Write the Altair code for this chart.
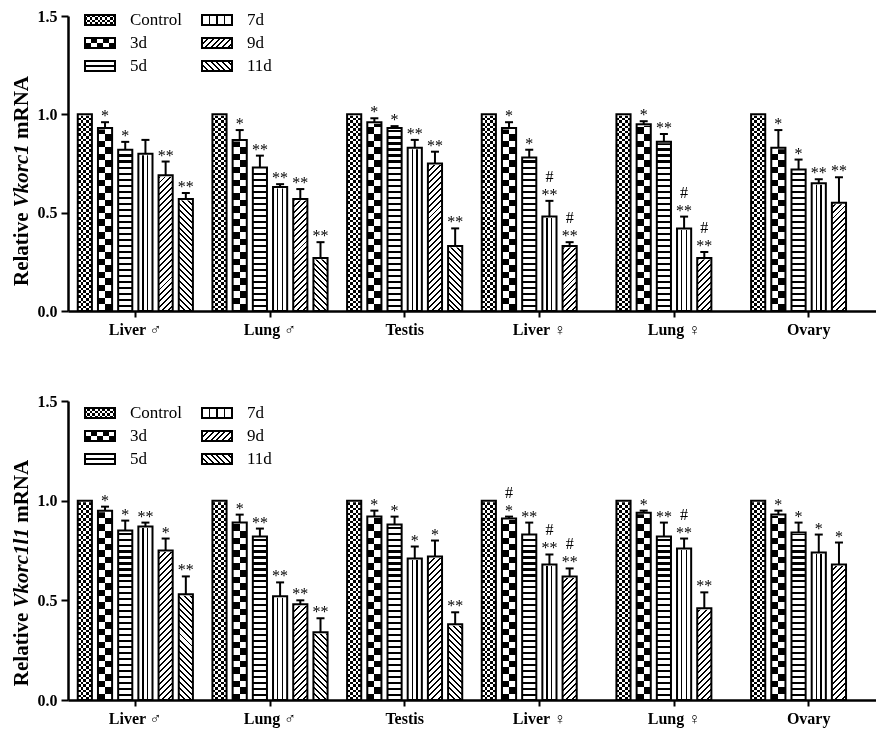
import altair as alt
import pandas as pd

# ---------------- data ----------------
groups = ["Liver ♂", "Lung ♂", "Testis", "Liver ♀", "Lung ♀", "Ovary"]
series = ["Control", "3d", "5d", "7d", "9d", "11d"]

# Relative Vkorc1 mRNA (rows follow `groups`, columns follow `series`)
vk1_mean = [
    [1.00, 0.93, 0.82, 0.80, 0.69, 0.57],
    [1.00, 0.87, 0.73, 0.63, 0.57, 0.27],
    [1.00, 0.96, 0.93, 0.83, 0.75, 0.33],
    [1.00, 0.93, 0.78, 0.48, 0.33],
    [1.00, 0.95, 0.86, 0.42, 0.27],
    [1.00, 0.83, 0.72, 0.65, 0.55],
]
vk1_sem = [
    [0, 0.03, 0.04, 0.07, 0.07, 0.03],
    [0, 0.05, 0.06, 0.015, 0.05, 0.08],
    [0, 0.02, 0.01, 0.04, 0.06, 0.09],
    [0, 0.03, 0.04, 0.08, 0.02],
    [0, 0.015, 0.04, 0.06, 0.03],
    [0, 0.09, 0.05, 0.02, 0.13],
]
vk1_star = [
    ["", "*", "*", "", "**", "**"],
    ["", "*", "**", "**", "**", "**"],
    ["", "*", "*", "**", "**", "**"],
    ["", "*", "*", "**", "**"],
    ["", "*", "**", "**", "**"],
    ["", "*", "*", "**", "**"],
]
vk1_hash = [
    ["", "", "", "", "", ""],
    ["", "", "", "", "", ""],
    ["", "", "", "", "", ""],
    ["", "", "", "#", "#"],
    ["", "", "", "#", "#"],
    ["", "", "", "", ""],
]

# Relative Vkorc1l1 mRNA
vk1l1_mean = [
    [1.00, 0.95, 0.85, 0.87, 0.75, 0.53],
    [1.00, 0.89, 0.82, 0.52, 0.48, 0.34],
    [1.00, 0.92, 0.88, 0.71, 0.72, 0.38],
    [1.00, 0.91, 0.83, 0.68, 0.62],
    [1.00, 0.94, 0.82, 0.76, 0.46],
    [1.00, 0.93, 0.84, 0.74, 0.68],
]
vk1l1_sem = [
    [0, 0.02, 0.05, 0.02, 0.06, 0.09],
    [0, 0.04, 0.04, 0.07, 0.02, 0.07],
    [0, 0.03, 0.04, 0.06, 0.08, 0.06],
    [0, 0.01, 0.06, 0.05, 0.04],
    [0, 0.01, 0.07, 0.05, 0.08],
    [0, 0.02, 0.05, 0.09, 0.11],
]
vk1l1_star = [
    ["", "*", "*", "**", "*", "**"],
    ["", "*", "**", "**", "**", "**"],
    ["", "*", "*", "*", "*", "**"],
    ["", "*", "**", "**", "**"],
    ["", "*", "**", "**", "**"],
    ["", "*", "*", "*", "*"],
]
vk1l1_hash = [
    ["", "", "", "", "", ""],
    ["", "", "", "", "", ""],
    ["", "", "", "", "", ""],
    ["", "#", "", "#", "#"],
    ["", "", "", "#", ""],
    ["", "", "", "", ""],
]

# ---------------- layout / style ----------------
FONT = "Liberation Serif"
W = 808
H_TOP, H_BOTTOM = 295, 299
Y_MAX = 1.5
PI_X, PO_X = 0.1, 0.05
PI_O, PO_O = 0.3, 0.15
STEP_X = W / (len(groups) - PI_X + 2 * PO_X)
BW_X = STEP_X * (1 - PI_X)
STEP_O = BW_X / (len(series) - PI_O + 2 * PO_O)
BAR_W = STEP_O * (1 - PI_O)

BLACK, WHITE = "#000000", "#ffffff"


def frame(mean, sem, star, hsh):
    rows = []
    for g, m, s, st, hs in zip(groups, mean, sem, star, hsh):
        for i, v in enumerate(m):
            rows.append(dict(group=g, series=series[i], value=v, err=s[i],
                             star=st[i], hash=hs[i]))
    return pd.DataFrame(rows)


# ---------- fill patterns built from sharp-edged gradients ----------
def cells(n, first=BLACK, second=WHITE):
    stops = []
    for i in range(n):
        col = first if i % 2 == 0 else second
        stops.append({"offset": round(i / n, 6), "color": col})
        stops.append({"offset": round((i + 1) / n, 6), "color": col})
    return stops


def bands(n, frac, on=BLACK, off=WHITE):
    stops = []
    for i in range(n):
        a, b, c = i / n, (i + frac) / n, (i + 1) / n
        stops += [{"offset": round(a, 6), "color": on},
                  {"offset": round(b, 6), "color": on},
                  {"offset": round(b, 6), "color": off},
                  {"offset": round(c, 6), "color": off}]
    return stops


def lines(count, width):
    stops = [{"offset": 0, "color": WHITE}]
    for j in range(count):
        c = (j + 1) / (count + 1)
        a, b = round(c - width / 2, 6), round(c + width / 2, 6)
        stops += [{"offset": a, "color": WHITE}, {"offset": a, "color": BLACK},
                  {"offset": b, "color": BLACK}, {"offset": b, "color": WHITE}]
    stops.append({"offset": 1, "color": WHITE})
    return stops


def lin(stops, x1, y1, x2, y2):
    return {"gradient": "linear", "x1": x1, "y1": y1, "x2": x2, "y2": y2,
            "stops": stops}


def diag(w, h, forward, period=6.0, frac=0.33):
    r = w / h
    k = (1 + r) / (1 + r * r)
    n = max(1, round((h + w) / period))
    st = bands(n, frac)
    if forward:
        return lin(st, 0, 0, k * r, k)
    return lin(st, 0, 1, k * r, 1 - k)


def pattern(name, w, h, legend=False):
    if name == "Control":
        c = 2.6
        return [(lin(cells(max(2, round(h / c))), 0, 0, 0, 1), None),
                (lin(cells(max(2, round(w / c)), WHITE, BLACK), 0, 0, 1, 0), "difference")]
    if name == "3d":
        c = 6.5 if not legend else 5.5
        return [(lin(cells(max(2, round(h / c))), 0, 0, 0, 1), None),
                (lin(cells(max(2, round(w / c)), WHITE, BLACK), 0, 0, 1, 0), "difference")]
    if name == "5d":
        if legend:
            return [(lin(lines(1, 0.2), 0, 0, 0, 1), None)]
        return [(lin(bands(round(h / 6), 0.35), 0, 0, 0, 1), None)]
    if name == "7d":
        if legend:
            return [(lin(lines(3, 0.06), 0, 0, 1, 0), None)]
        return [(lin(lines(2, 0.1), 0, 0, 1, 0), None)]
    if name == "9d":
        return [(diag(w, h, True), None)]
    return [(diag(w, h, False), None)]


# ---------- encodings ----------
x_axis = alt.Axis(title=None, labelAngle=0, domainColor=BLACK, domainWidth=2.5,
                  tickColor=BLACK, tickWidth=2, tickSize=6, labelPadding=4,
                  labelFont=FONT, labelFontSize=16, labelFontWeight="bold",
                  labelColor=BLACK, grid=False)
y_axis = alt.Axis(title=None, values=[0, 0.5, 1.0, 1.5], format=".1f",
                  domainColor=BLACK, domainWidth=2.5, tickColor=BLACK,
                  tickWidth=2, tickSize=7, labelPadding=4, labelFont=FONT,
                  labelFontSize=16, labelFontWeight="bold", labelColor=BLACK,
                  grid=False)
X = alt.X("group:N", scale=alt.Scale(domain=groups, paddingInner=PI_X,
                                     paddingOuter=PO_X), axis=x_axis)
XO = alt.XOffset("series:N", scale=alt.Scale(domain=series, paddingInner=PI_O,
                                             paddingOuter=PO_O))
YSCALE = alt.Scale(domain=[0, Y_MAX], nice=False, zero=True)
Y = alt.Y("value:Q", scale=YSCALE, axis=y_axis)
Y_TOPQ = alt.Y("top:Q", scale=YSCALE, axis=y_axis)
Y_BASE = alt.Y(datum=0, type="quantitative", scale=YSCALE, axis=y_axis)
Y_TOP = alt.Y2(datum=Y_MAX)

# Times-Bold / Bold-Italic advance widths (em) for centring the mixed-style title
BOLD_W = {"R": .722, "e": .444, "l": .278, "a": .5, "t": .333, "i": .278,
          "v": .5, "m": .833, "N": .722, "A": .722, " ": .25}
BI_W = {"V": .667, "k": .5, "o": .5, "r": .389, "c": .444, "1": .5, "l": .278}
TITLE_FS = 21
LEG_X = [17, 134]


def text_w(s, table):
    return sum(table[ch] for ch in s) * TITLE_FS


def panel(df, gene, H, leg_rows, title_y):
    layers = []
    # patterned fills (full-height, then masked above each value)
    for s in series:
        for grad, blend in pattern(s, BAR_W, H):
            kw = {"fill": grad, "strokeWidth": 0}
            if blend:
                kw["blend"] = blend
            layers.append(
                alt.Chart(df).transform_filter(alt.datum.series == s)
                .mark_bar(**kw)
                .encode(x=X, xOffset=XO, y=Y_BASE, y2=Y_TOP))
    # white mask above each bar's value
    layers.append(
        alt.Chart(df).mark_bar(fill=WHITE, stroke=WHITE, strokeWidth=3)
        .encode(x=X, xOffset=XO, y=Y, y2=Y_TOP))
    # bar outlines
    layers.append(
        alt.Chart(df).mark_bar(fillOpacity=0, stroke=BLACK, strokeWidth=2)
        .encode(x=X, xOffset=XO, y=Y))
    eb = alt.Chart(df).transform_filter(alt.datum.err > 0).transform_calculate(
        top="datum.value + datum.err")
    layers.append(eb.mark_rule(color=BLACK, strokeWidth=2)
                  .encode(x=X, xOffset=XO, y=Y, y2=alt.Y2("top:Q")))
    layers.append(eb.mark_tick(orient="horizontal", color=BLACK, size=8,
                               thickness=2, opacity=1)
                  .encode(x=X, xOffset=XO, y=Y_TOPQ))
    ann = alt.Chart(df).transform_calculate(top="datum.value + datum.err")
    layers.append(ann.transform_filter(alt.datum.star != "")
                  .mark_text(font=FONT, fontSize=16, color=BLACK,
                             baseline="alphabetic", dy=-1)
                  .encode(x=X, xOffset=XO, y=Y_TOPQ, text="star:N"))
    layers.append(ann.transform_filter(alt.datum.hash != "")
                  .mark_text(font=FONT, fontSize=16, color=BLACK,
                             baseline="alphabetic", dy=-19)
                  .encode(x=X, xOffset=XO, y=Y_TOPQ, text="hash:N"))
    # legend (two columns, column-major)
    for i, s in enumerate(series):
        col, row = divmod(i, 3)
        x0, yc = LEG_X[col], leg_rows[row]
        one = alt.Chart(pd.DataFrame({"series": [s]}))
        pos = dict(x=alt.value(x0), x2=alt.value(x0 + 30),
                   y=alt.value(yc - 5), y2=alt.value(yc + 5))
        for grad, blend in pattern(s, 30, 10, legend=True):
            kw = {"fill": grad, "strokeWidth": 0}
            if blend:
                kw["blend"] = blend
            layers.append(one.mark_rect(**kw).encode(**pos))
        layers.append(one.mark_rect(fillOpacity=0, stroke=BLACK, strokeWidth=2)
                      .encode(**pos))
        layers.append(one.mark_text(font=FONT, fontSize=17, color=BLACK,
                                    align="left", baseline="middle")
                      .encode(x=alt.value(x0 + 45), y=alt.value(yc),
                              text=alt.value(s)))
    # y-axis title with italic gene name
    w_rel = text_w("Relative", BOLD_W)
    w_sp = text_w(" ", BOLD_W)
    w_gene = text_w(gene, BI_W)
    w_m = text_w("mRNA", BOLD_W)
    total = w_rel + w_sp + w_gene + w_sp + w_m
    start = title_y + total / 2
    rel_end = start - w_rel
    gene_start = rel_end - w_sp
    m_start = gene_start - w_gene - w_sp
    one = alt.Chart(pd.DataFrame({"t": [0]}))
    tx = -46
    layers.append(one.mark_text(font=FONT, fontSize=TITLE_FS, fontWeight="bold",
                                angle=270, align="right", baseline="middle",
                                color=BLACK)
                  .encode(x=alt.value(tx), y=alt.value(rel_end), text=alt.value("Relative")))
    layers.append(one.mark_text(font=FONT, fontSize=TITLE_FS, fontWeight="bold",
                                fontStyle="italic", angle=270, align="left",
                                baseline="middle", color=BLACK)
                  .encode(x=alt.value(tx), y=alt.value(gene_start), text=alt.value(gene)))
    layers.append(one.mark_text(font=FONT, fontSize=TITLE_FS, fontWeight="bold",
                                angle=270, align="left", baseline="middle",
                                color=BLACK)
                  .encode(x=alt.value(tx), y=alt.value(m_start), text=alt.value("mRNA")))
    return alt.layer(*layers).properties(width=W, height=H)


top = panel(frame(vk1_mean, vk1_sem, vk1_star, vk1_hash), "Vkorc1",
            H_TOP, [4, 27, 50], 165)
bottom = panel(frame(vk1l1_mean, vk1l1_sem, vk1l1_star, vk1l1_hash), "Vkorc1l1",
               H_BOTTOM, [12, 35, 58], 172)

chart = (
    alt.vconcat(top, bottom, spacing=56)
    .properties(padding={"left": 3, "top": 0, "right": 0, "bottom": 2},
                background="white")
    .configure_view(strokeWidth=0)
)

chart.save("out.html", embed_options={"renderer": "svg", "actions": False})
